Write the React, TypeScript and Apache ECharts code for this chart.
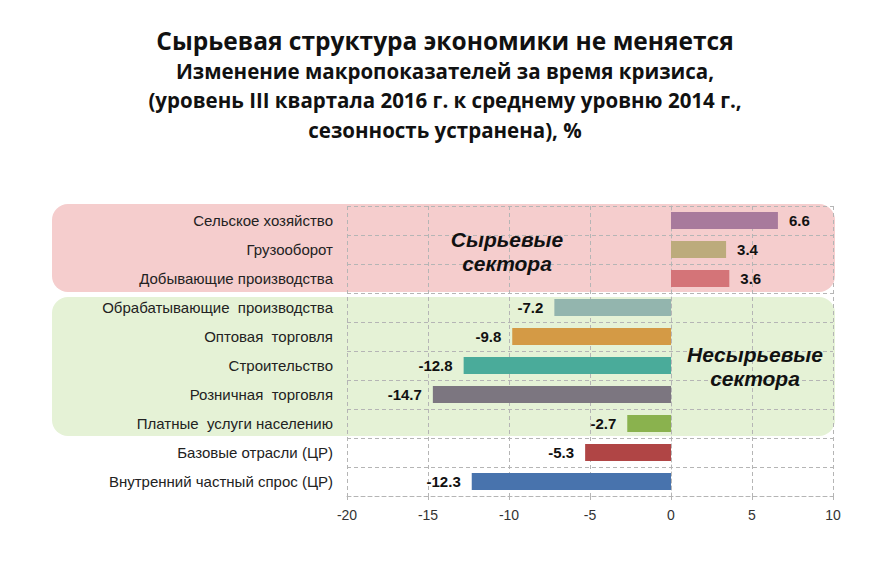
import React, { useEffect, useRef } from "react";
import * as echarts from "echarts";

const categories = [
  "Сельское хозяйство",
  "Грузооборот",
  "Добывающие производства",
  "Обрабатывающие  производства",
  "Оптовая  торговля",
  "Строительство",
  "Розничная  торговля",
  "Платные  услуги населению",
  "Базовые отрасли (ЦР)",
  "Внутренний частный спрос (ЦР)",
];
const values = [6.6, 3.4, 3.6, -7.2, -9.8, -12.8, -14.7, -2.7, -5.3, -12.3];
const barColors = [
  "#a87a9c",
  "#bcab7c",
  "#d47478",
  "#93b5ae",
  "#d49a45",
  "#4aab9a",
  "#7c7680",
  "#8ab24e",
  "#b04545",
  "#4873ad",
];
const xTicks = { min: -20, max: 10, interval: 5 };
const titleMain = "Сырьевая структура экономики не меняется";
const titleSub = [
  "Изменение макропоказателей за время кризиса,",
  "(уровень III квартала 2016 г. к среднему уровню 2014 г.,",
  "сезонность устранена), %",
];
const groupLabels = [
  { lines: ["Сырьевые", "сектора"], cx: 507, cy: 251 },
  { lines: ["Несырьевые", "сектора"], cx: 755, cy: 366 },
];

export default function App() {
  const ref = useRef<HTMLDivElement>(null);
  useEffect(() => {
    if (!ref.current) return;
    const chart = echarts.init(ref.current, undefined, { renderer: "svg" });
    const dashed = { color: "#b5b5b5", type: [4, 3] as any, width: 1 };
    chart.setOption({
      animation: false,
      backgroundColor: "#ffffff",
      title: {
        text: titleMain,
        subtext: titleSub.join("\n"),
        left: "center",
        top: 20,
        itemGap: 1,
        textStyle: {
          fontFamily: "Open Sans",
          fontWeight: "bold",
          fontSize: 24.5,
          color: "#111",
          lineHeight: 30,
        },
        subtextStyle: {
          fontFamily: "Open Sans",
          fontWeight: "bold",
          fontSize: 20.5,
          color: "#111",
          lineHeight: 29.5,
          align: "center",
        },
      },
      grid: { left: 347, right: 57, top: 206, bottom: 65, containLabel: false },
      xAxis: {
        type: "value",
        min: xTicks.min,
        max: xTicks.max,
        interval: xTicks.interval,
        axisLine: { show: true, lineStyle: dashed },
        axisTick: { show: true, length: 4, lineStyle: dashed },
        splitLine: { show: true, lineStyle: dashed },
        axisLabel: {
          fontFamily: "Liberation Sans",
          fontSize: 14,
          color: "#333",
          margin: 12,
        },
      },
      yAxis: {
        type: "category",
        data: categories,
        inverse: true,
        axisLine: { show: true, lineStyle: dashed },
        axisTick: { show: false },
        splitLine: { show: true, lineStyle: dashed },
        axisLabel: {
          fontFamily: "Liberation Sans",
          fontSize: 15,
          color: "#222",
          margin: 14,
        },
      },
      series: [
        {
          type: "bar",
          barWidth: 17,
          data: values.map((v, i) => ({
            value: v,
            itemStyle: { color: barColors[i] },
            label: { position: v >= 0 ? "right" : "left" },
          })),
          label: {
            show: true,
            fontFamily: "Liberation Sans",
            fontWeight: "bold",
            fontSize: 15,
            color: "#111",
            distance: 11,
            formatter: (p: any) => p.value.toFixed(1),
          },
        },
      ],
      graphic: [
        {
          type: "rect",
          z: -10,
          silent: true,
          shape: { x: 52, y: 204, width: 783, height: 88, r: 16 },
          style: { fill: "#f5cdcd" },
        },
        {
          type: "rect",
          z: -10,
          silent: true,
          shape: { x: 52, y: 297, width: 783, height: 139, r: 16 },
          style: { fill: "#e5f2d6" },
        },
        ...groupLabels.flatMap((g) =>
          g.lines.map((t, j) => ({
            type: "text",
            z: 10,
            silent: true,
            x: g.cx,
            y: g.cy + (j - 0.5) * 24,
            style: {
              text: t,
              fontFamily: "Liberation Sans",
              fontWeight: "bold",
              fontStyle: "italic",
              fontSize: 21,
              fill: "#111",
              align: "center",
              verticalAlign: "middle",
            },
          }))
        ),
      ],
    });
    return () => chart.dispose();
  }, []);
  return (
    <div
      ref={ref}
      style={{ position: "fixed", left: 0, top: 0, width: 890, height: 561 }}
    />
  );
}
